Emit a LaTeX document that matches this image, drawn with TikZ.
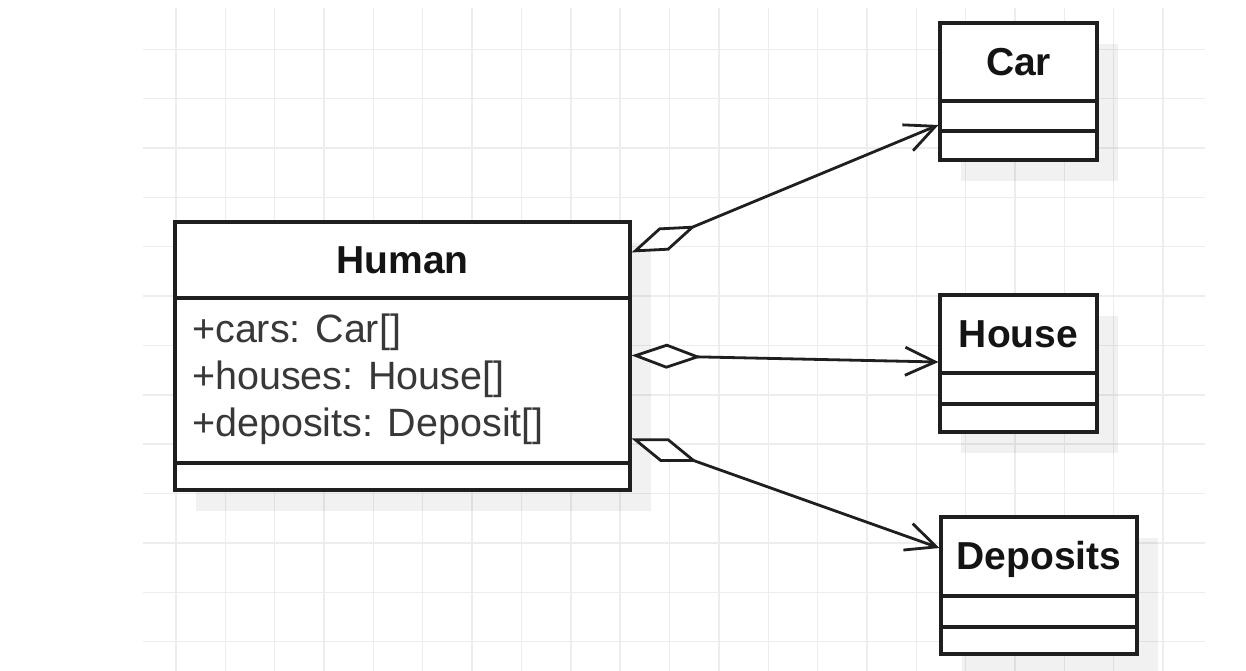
\documentclass[tikz,border=0pt]{standalone}
\usepackage{fontspec}
\setmainfont{Liberation Sans}
\usetikzlibrary{arrows.meta,calc}
\begin{document}
\begin{tikzpicture}[x=1pt,y=-1pt,
  gridline/.style={draw=black!7, line width=1.4pt},
  boxshadow/.style={fill=black, opacity=0.055, draw=none},
  umlbox/.style={draw=black!88, line width=3.1pt, fill=white, rectangle, inner sep=0pt, minimum height=137pt},
  sepline/.style={draw=black!88, line width=3.1pt},
  titletext/.style={font=\bfseries\fontsize{39}{47}\selectfont, text=black!92, anchor=base, inner sep=0pt},
  attrtext/.style={font=\fontsize{39.5}{47}\selectfont, text=black!78, anchor=base west, align=left, inner sep=0pt},
  agg/.style={line width=2.8pt, draw=black!88,
    {Diamond[fill=white,length=70pt,width=25pt]}-{Straight Barb[length=30pt,width=28pt]}}
]
\useasboundingbox (0,0) rectangle (1246,671);
\fill[white] (0,0) rectangle (1246,671);
% grid
\foreach \k in {0,...,20} {
  \draw[gridline] ({176+\k*49.35},8) -- ({176+\k*49.35},671);
}
\foreach \k in {1,...,13} {
  \draw[gridline] (143,{\k*49.35}) -- (1205,{\k*49.35});
}
% shadows
\fill[boxshadow] (196,243) rectangle (651,511);
\fill[boxshadow] (961,44) rectangle (1118,181);
\fill[boxshadow] (961,316) rectangle (1118,453);
\fill[boxshadow] (962,538) rectangle (1158,675);
% boxes
\node[umlbox, minimum width=455pt, minimum height=268pt] (human) at (402.5,356) {};
\node[umlbox, minimum width=157pt] (car) at (1018.5,91.5) {};
\node[umlbox, minimum width=157pt] (house) at (1018.5,363.5) {};
\node[umlbox, minimum width=196pt] (deposits) at (1039,585.5) {};
% compartments
\draw[sepline] (human.west |- 0,298) -- (human.east |- 0,298);
\draw[sepline] (human.west |- 0,463) -- (human.east |- 0,463);
\draw[sepline] (car.west |- 0,101) -- (car.east |- 0,101);
\draw[sepline] (car.west |- 0,131) -- (car.east |- 0,131);
\draw[sepline] (house.west |- 0,373) -- (house.east |- 0,373);
\draw[sepline] (house.west |- 0,404) -- (house.east |- 0,404);
\draw[sepline] (deposits.west |- 0,596) -- (deposits.east |- 0,596);
\draw[sepline] (deposits.west |- 0,627) -- (deposits.east |- 0,627);
% texts
\node[titletext] (humant) at (402.5,273) {Human};
\node[attrtext] (humana) at (192,436) {+cars: Car[]\\+houses: House[]\\+deposits: Deposit[]};
\node[titletext] (cart) at (1018.5,76) {Car};
\node[titletext] (houset) at (1018.5,347) {House};
\node[titletext] (depositst) at (1039,569) {Deposits};
% connectors
\draw[agg] ([yshift=-32pt]human.north east) -- ([yshift=-33.5pt]car.west);
\draw[agg] ([yshift=-135pt]human.north east) -- ([yshift=1.5pt]house.west);
\draw[agg] ([yshift=-218pt]human.north east) -- ([yshift=37.5pt]deposits.west);
\end{tikzpicture}
\end{document}
